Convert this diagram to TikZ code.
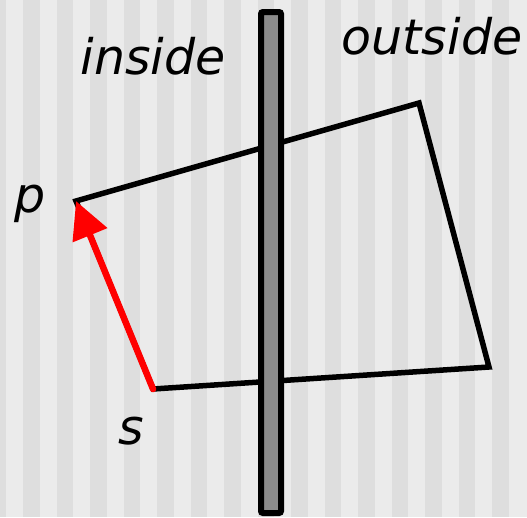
\documentclass[tikz,border=0pt]{standalone}
\usepackage{fontspec}
\setmainfont{DejaVu Sans}
\usepackage{xcolor}
\usepackage{tikz}
\usetikzlibrary{arrows.meta}
\definecolor{stripelight}{HTML}{EBEBEB}
\definecolor{stripedark}{HTML}{DEDEDE}
\definecolor{wallgray}{HTML}{8C8C8C}

\begin{document}
\begin{tikzpicture}[
  x=1pt, y=-1pt,
  label/.style={inner sep=0pt,anchor=base,font=\fontsize{49}{59}\selectfont\itshape},
  edge/.style={draw=black,line width=5.5pt},
  vec/.style={draw=red,line width=6.5pt,line cap=round,-{Triangle[length=37pt,width=36pt]}},
  wall/.style={draw=black,fill=wallgray,line width=6pt,rounded corners=2pt}]
\useasboundingbox (0,0) rectangle (527,517);
% striped background
\fill[stripelight] (0,0) rectangle (527,517);
\foreach \k in {0,...,15}
  \fill[stripedark] ({-10.5+33.5*\k},0) rectangle ++(16.75,517);
% polygon
\coordinate (p) at (76,201);
\coordinate (q) at (419,103);
\coordinate (r) at (489,367);
\coordinate (s) at (153,389);
\draw[edge] (p) -- (q) -- (r) -- (s) -- cycle;
\draw[vec] (s) -- (p);
% wall
\draw[wall] (261,12) rectangle (281,513);
% labels
\node[label] (lin) at (153,74) {inside};
\node[label] (lout) at (432,54) {outside};
\node[label] (lp) at (30,212) {p};
\node[label] (ls) at (131,444) {s};
\end{tikzpicture}
\end{document}
